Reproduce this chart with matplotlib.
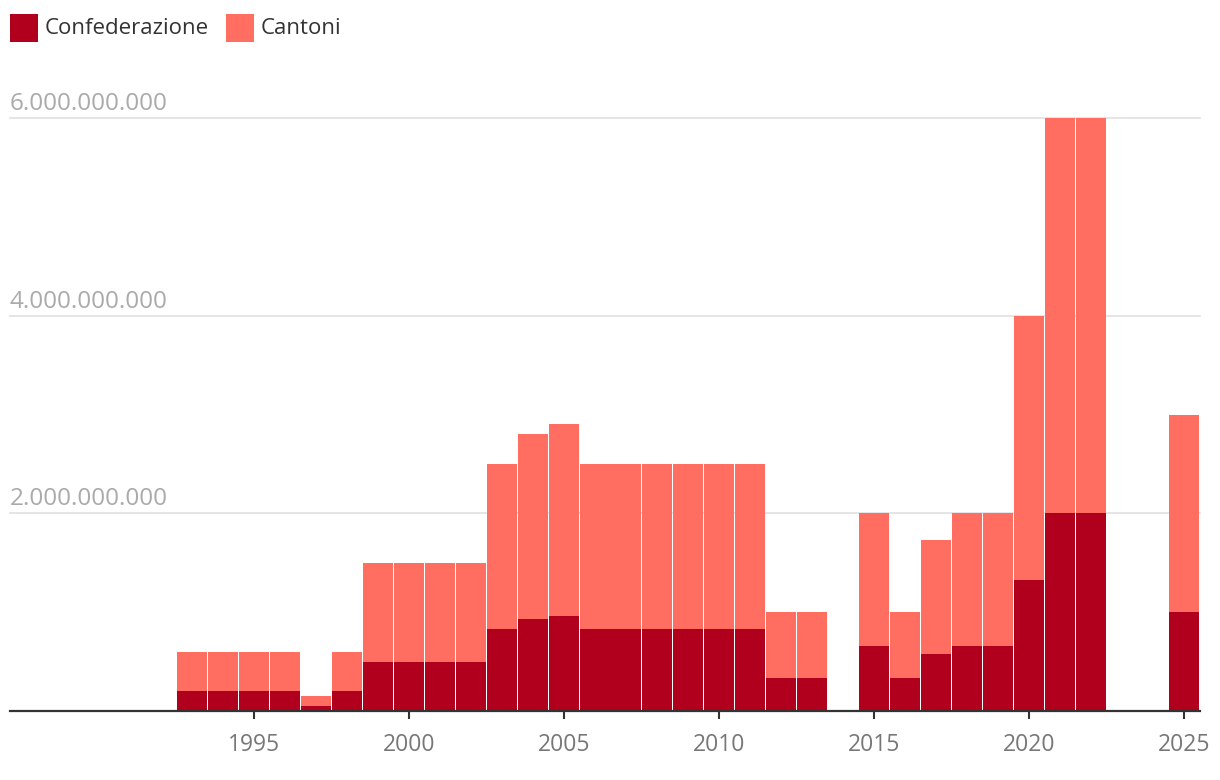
import matplotlib.pyplot as plt
import matplotlib.transforms as mtransforms
from matplotlib.patches import Rectangle

# ─── Data ───────────────────────────────────────────────
# start year of each period and number of years it covers
period_start = [1993, 1994, 1995, 1996, 1997, 1998, 1999, 2000, 2001, 2002,
                2003, 2004, 2005, 2006, 2008, 2009, 2010, 2011, 2012, 2013,
                2015, 2016, 2017, 2018, 2019, 2020, 2021, 2022, 2025]
period_years = [1, 1, 1, 1, 1, 1, 1, 1, 1, 1,
                1, 1, 1, 2, 1, 1, 1, 1, 1, 1,
                1, 1, 1, 1, 1, 1, 1, 1, 1]
confederazione = [0.2e9, 0.2e9, 0.2e9, 0.2e9, 0.05e9, 0.2e9, 0.5e9, 0.5e9, 0.5e9, 0.5e9,
                  0.83e9, 0.93e9, 0.96e9, 0.83e9, 0.83e9, 0.83e9, 0.83e9, 0.83e9, 0.33e9, 0.33e9,
                  0.66e9, 0.33e9, 0.58e9, 0.66e9, 0.66e9, 1.33e9, 2.0e9, 2.0e9, 1.0e9]
totale = [0.6e9, 0.6e9, 0.6e9, 0.6e9, 0.15e9, 0.6e9, 1.5e9, 1.5e9, 1.5e9, 1.5e9,
          2.5e9, 2.8e9, 2.9e9, 2.5e9, 2.5e9, 2.5e9, 2.5e9, 2.5e9, 1.0e9, 1.0e9,
          2.0e9, 1.0e9, 1.73e9, 2.0e9, 2.0e9, 4.0e9, 6.0e9, 6.0e9, 3.0e9]
cantoni = [t - c for t, c in zip(totale, confederazione)]

y_ticks = [2e9, 4e9, 6e9]
y_labels = ["2.000.000.000", "4.000.000.000", "6.000.000.000"]
x_ticks = [1995, 2000, 2005, 2010, 2015, 2020, 2025]

# ─── Style ──────────────────────────────────────────────
col_conf = "#b0001e"
col_cant = "#ff6e61"
gap = 0.04  # white gap between neighbouring bars, in years
plt.rcParams["font.family"] = ["Open Sans", "DejaVu Sans"]

W, H = 1220, 780
fig = plt.figure(figsize=(W / 100, H / 100), dpi=100)
ax = fig.add_axes([10 / W, 69 / H, (1199.5 - 10) / W, (711 - 118) / H])

lefts = [s - 0.5 + gap / 2 for s in period_start]
widths = [n - gap for n in period_years]
ax.bar(lefts, confederazione, width=widths, align="edge",
       color=col_conf, linewidth=0, zorder=3)
ax.bar(lefts, cantoni, width=widths, bottom=confederazione, align="edge",
       color=col_cant, linewidth=0, zorder=3)

ax.set_xlim(1987.13, 2025.5)
ax.set_ylim(0, 6e9)

for s in ["top", "right", "left"]:
    ax.spines[s].set_visible(False)
ax.spines["bottom"].set_color("#333333")
ax.spines["bottom"].set_linewidth(1.6)
ax.spines["bottom"].set_zorder(5)

ax.set_yticks(y_ticks)
ax.set_yticklabels([])
ax.tick_params(axis="y", length=0)
ax.grid(axis="y", color="#e0e0e0", linewidth=1.2, zorder=0)
for gl in ax.get_ygridlines():
    gl.set_clip_on(False)

offset = mtransforms.ScaledTranslation(0, 8 / 100, fig.dpi_scale_trans)
trans = mtransforms.blended_transform_factory(ax.transAxes, ax.transData) + offset
for v, lab in zip(y_ticks, y_labels):
    ax.text(0, v, lab, transform=trans, ha="left", va="baseline",
            fontsize=17.5, color="#aaaaaa")

ax.set_xticks(x_ticks)
ax.set_xticklabels([str(x) for x in x_ticks])
ax.tick_params(axis="x", length=6, width=1.5, color="#333333",
               labelsize=16.5, labelcolor="#777777", pad=10)

# legend
for x0, lab, col in [(10, "Confederazione", col_conf), (226, "Cantoni", col_cant)]:
    fig.add_artist(Rectangle((x0 / W, 1 - 42 / H), 28 / W, 28 / H,
                             transform=fig.transFigure, color=col, lw=0))
    fig.text((x0 + 35) / W, 1 - 28 / H, lab, ha="left", va="center",
             fontsize=16, color="#333333")

fig.savefig("out.png", dpi=100)
